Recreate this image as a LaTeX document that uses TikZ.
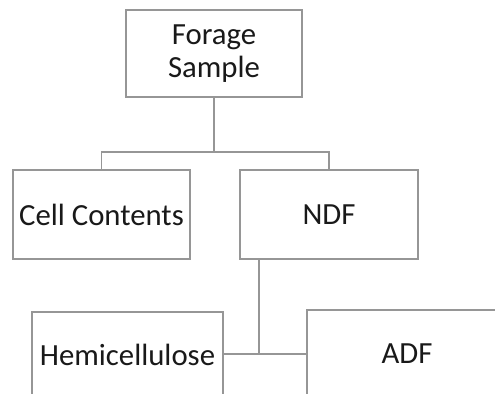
\documentclass[tikz,border=0pt]{standalone}
\usepackage{fontspec}
\setmainfont{Carlito}
\usepackage{tikz}
\usetikzlibrary{positioning,calc}
\definecolor{linegray}{RGB}{150,150,150}

\begin{document}
\begin{tikzpicture}[x=0.02cm, y=-0.02cm,
    box/.style={draw=linegray, line width=1.1pt, inner sep=0pt, align=center,
        font=\fontsize{17.5}{19}\selectfont, text=black!90},
    link/.style={draw=linegray, line width=1.1pt}]

    \useasboundingbox (0,0) rectangle (495,394);
    \clip (0,0) rectangle (495,394);

    % --- TOP ---
    \node[box, minimum width=176*0.02cm, minimum height=87*0.02cm] (forage) at (214, 53.5) {Forage\\Sample};

    % --- SECOND ROW ---
    \node[box, minimum width=177*0.02cm, minimum height=89*0.02cm] (cell) at (101.5, 214.5) {Cell Contents};
    \node[box, minimum width=178*0.02cm, minimum height=89*0.02cm] (ndf) at (329, 214.5) {NDF};

    % --- THIRD ROW (cut off at the edge) ---
    \node[box, minimum width=191*0.02cm, minimum height=86*0.02cm] (hemi) at (127.5, 355) {Hemicellulose};
    \node[box, minimum width=200*0.02cm, minimum height=88*0.02cm] (adf) at (407, 354) {ADF};

    % Connectors
    \coordinate (split) at (214, 152);
    \coordinate (join) at (259, 354);
    \draw[link] (forage.south) -- (split);
    \draw[link] (cell.north) |- (split) -| (ndf.north);
    \draw[link] (ndf.south -| join) -- (join);
    \draw[link] (hemi.east |- join) -- (adf.west |- join);

\end{tikzpicture}
\end{document}
